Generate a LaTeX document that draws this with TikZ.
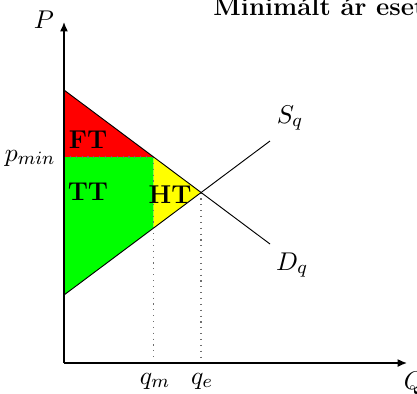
\documentclass[tikz,border=0pt]{standalone}
\usepackage{tikz}
\usetikzlibrary{arrows.meta, positioning, calc}
\definecolor{areared}{RGB}{255,0,0}
\definecolor{areagreen}{RGB}{0,255,0}
\definecolor{areayellow}{RGB}{255,255,0}
\definecolor{guidegray}{RGB}{110,110,110}
\tikzset{
  axis/.style={-{Latex[length=4pt,width=3.4pt]}, line width=0.6pt, black},
  curve/.style={line width=0.4pt, black},
  guide/.style={dotted, line width=0.5pt, color=guidegray},
  area/.style={draw=none},
  lbl/.style={inner sep=0pt, font=\fontsize{11}{13}\selectfont},
  arealbl/.style={inner sep=0pt, font=\fontsize{11}{13}\selectfont\bfseries}
}
\begin{document}
\begin{tikzpicture}[x=0.015cm, y=0.015cm]
  \useasboundingbox (-64,-30) rectangle (353,363);

  % Key points
  \coordinate (O) at (0,0);
  \coordinate (ytop) at (0,341);
  \coordinate (xend) at (343,0);
  \coordinate (dstart) at (0,273);
  \coordinate (dend) at (206,119);
  \coordinate (sstart) at (0,68);
  \coordinate (send) at (206,222);
  \coordinate (eq) at (137,170.5);
  \coordinate (pmin) at (0,206);
  \coordinate (mD) at (89.6,206);
  \coordinate (mS) at (89.6,135);
  \coordinate (qm) at (89.6,0);
  \coordinate (qe) at (137,0);

  % Areas
  \fill[areared, area] (dstart) -- (mD) -- (pmin) -- cycle;
  \fill[areagreen, area] (pmin) -- (mD) -- (mS) -- (sstart) -- cycle;
  \fill[areayellow, area] (mD) -- (eq) -- (mS) -- cycle;

  % Guides
  \draw[guide] (pmin) -- (mD);
  \draw[guide] (mD) -- (qm);
  \draw[guide] (eq) -- (qe);

  % Demand and supply
  \draw[curve] (dstart) -- (dend);
  \draw[curve] (sstart) -- (send);

  % Axes
  \draw[axis] (O) -- (ytop);
  \draw[axis] (O) -- (xend);

  % Labels
  \node[lbl] (plbl) at (-20,343) {$P$};
  \node[lbl] (qlbl) at (350,-20) {$Q$};
  \node[lbl, anchor=east] (pminlbl) at (-8,205) {$p_{min}$};
  \node[lbl] (qmlbl) at (91,-18) {$q_m$};
  \node[lbl] (qelbl) at (138,-18) {$q_e$};
  \node[lbl] (slbl) at (226,245) {$S_q$};
  \node[lbl] (dlbl) at (228,98) {$D_q$};
  \node[arealbl] (ft) at (24,223) {FT};
  \node[arealbl] (tt) at (24,171.5) {TT};
  \node[arealbl] (ht) at (106,168) {HT};

  % Title
  \node[lbl, anchor=base west, font=\fontsize{11}{13}\selectfont\bfseries] (title) at (149,348) {Minimált ár esete};
\end{tikzpicture}
\end{document}
